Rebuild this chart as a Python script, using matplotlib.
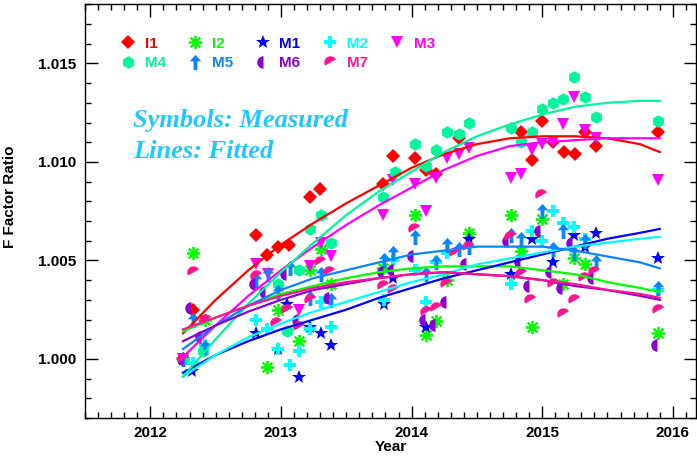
import matplotlib
matplotlib.use('Agg')
from matplotlib import pyplot as plt
from matplotlib.markers import MarkerStyle
from matplotlib.transforms import Affine2D
from matplotlib.ticker import MultipleLocator, FormatStrFormatter
import numpy as np

# measured symbols (year, F factor ratio)
i1_t = [2012.25, 2012.33, 2012.81, 2012.89, 2012.98, 2013.06, 2013.22, 2013.30, 2013.78, 2013.86,
        2014.03, 2014.11, 2014.19, 2014.36, 2014.84, 2014.92, 2015.00, 2015.08, 2015.17, 2015.25,
        2015.33, 2015.41, 2015.89]
i1_v = [1.0000, 1.0025, 1.0063, 1.0053, 1.0057, 1.0058, 1.0082, 1.0086, 1.0089, 1.0103,
        1.0102, 1.0096, 1.0094, 1.0112, 1.0115, 1.0101, 1.0121, 1.0110, 1.0105, 1.0104,
        1.0115, 1.0108, 1.0115]

i2_t = [2012.25, 2012.33, 2012.42, 2012.89, 2012.98, 2013.14, 2013.22, 2013.31, 2013.385, 2013.78,
        2014.03, 2014.11, 2014.19, 2014.27, 2014.44, 2014.76, 2014.84, 2014.92, 2015.00, 2015.16,
        2015.24, 2015.33, 2015.89]
i2_v = [1.0000, 1.0054, 1.0020, 0.9996, 1.0025, 1.0009, 1.0045, 1.0056, 1.0038, 1.0046,
        1.0073, 1.0012, 1.0019, 1.0040, 1.0064, 1.0073, 1.0055, 1.0016, 1.0071, 1.0038,
        1.0051, 1.0048, 1.0013]

m1_t = [2012.25, 2012.32, 2012.81, 2012.98, 2013.05, 2013.14, 2013.22, 2013.31, 2013.385, 2013.79,
        2013.86, 2014.11, 2014.44, 2014.76, 2014.92, 2015.08, 2015.24, 2015.33, 2015.41, 2015.89]
m1_v = [1.0000, 0.9994, 1.0013, 1.0005, 1.0028, 0.9991, 1.0016, 1.0013, 1.0007, 1.0028,
        1.0041, 1.0016, 1.0061, 1.0043, 1.0061, 1.0049, 1.0063, 1.0057, 1.0064, 1.0051]

m2_t = [2012.25, 2012.33, 2012.42, 2012.81, 2012.89, 2012.98, 2013.07, 2013.14, 2013.22, 2013.31,
        2013.385, 2013.79, 2013.86, 2014.03, 2014.11, 2014.19, 2014.27, 2014.76, 2014.92, 2015.00,
        2015.08, 2015.16, 2015.24, 2015.33, 2015.89]
m2_v = [1.0000, 0.9998, 1.0007, 1.0020, 1.0015, 1.0005, 0.9997, 1.0004, 1.0015, 1.0029,
        1.0016, 1.0030, 1.0050, 1.0045, 1.0029, 1.0049, 1.0054, 1.0038, 1.0065, 1.0060,
        1.0075, 1.0069, 1.0067, 1.0061, 1.0035]

m3_t = [2012.25, 2012.81, 2012.90, 2013.14, 2013.22, 2013.31, 2013.385, 2013.78, 2013.86, 2014.03,
        2014.11, 2014.19, 2014.27, 2014.36, 2014.44, 2014.76, 2014.84, 2014.92, 2015.00, 2015.08,
        2015.16, 2015.24, 2015.33, 2015.41, 2015.89]
m3_v = [1.0000, 1.0048, 1.0043, 1.0025, 1.0047, 1.0059, 1.0052, 1.0073, 1.0091, 1.0089,
        1.0075, 1.0092, 1.0102, 1.0104, 1.0107, 1.0092, 1.0094, 1.0106, 1.0109, 1.0110,
        1.0119, 1.0133, 1.0116, 1.0112, 1.0091]

m4_t = [2012.25, 2012.40, 2012.98, 2013.05, 2013.14, 2013.22, 2013.31, 2013.385, 2013.78, 2013.87,
        2014.03, 2014.11, 2014.19, 2014.27, 2014.36, 2014.44, 2014.76, 2014.84, 2014.92, 2015.00,
        2015.08, 2015.16, 2015.24, 2015.33, 2015.41, 2015.89]
m4_v = [1.0000, 1.0004, 1.0038, 1.0014, 1.0045, 1.0066, 1.0073, 1.0059, 1.0082, 1.0095,
        1.0109, 1.0098, 1.0106, 1.0115, 1.0114, 1.0120, 1.0117, 1.0110, 1.0115, 1.0127,
        1.0130, 1.0132, 1.0143, 1.0133, 1.0123, 1.0121]

m5_t = [2012.25, 2012.33, 2012.42, 2012.81, 2012.90, 2012.98, 2013.07, 2013.22, 2013.31, 2013.385,
        2013.79, 2013.86, 2014.03, 2014.11, 2014.19, 2014.27, 2014.36, 2014.44, 2014.76, 2014.84,
        2015.00, 2015.08, 2015.16, 2015.24, 2015.33, 2015.41, 2015.89]
m5_v = [1.0000, 1.0020, 1.0006, 1.0040, 1.0043, 1.0034, 1.0046, 1.0031, 1.0043, 1.0030,
        1.0050, 1.0054, 1.0062, 1.0043, 1.0049, 1.0058, 1.0056, 1.0057, 1.0063, 1.0061,
        1.0075, 1.0056, 1.0065, 1.0054, 1.0060, 1.0049, 1.0036]

m6_t = [2012.25, 2012.31, 2012.39, 2012.80, 2012.88, 2013.04, 2013.13, 2013.37, 2013.78, 2013.86,
        2014.01, 2014.10, 2014.18, 2014.26, 2014.42, 2014.74, 2014.83, 2014.90, 2014.98, 2015.07,
        2015.15, 2015.23, 2015.39, 2015.88]
m6_v = [1.0000, 1.0026, 1.0011, 1.0038, 1.0034, 1.0043, 1.0020, 1.0031, 1.0044, 1.0045,
        1.0052, 1.0020, 1.0017, 1.0029, 1.0048, 1.0060, 1.0049, 1.0037, 1.0065, 1.0044,
        1.0036, 1.0059, 1.0041, 1.0007]

m7_t = [2012.25, 2012.33, 2012.42, 2012.81, 2012.96, 2013.05, 2013.14, 2013.22, 2013.30, 2013.37,
        2013.78, 2013.86, 2014.02, 2014.11, 2014.19, 2014.26, 2014.33, 2014.43, 2014.75, 2014.84,
        2014.91, 2014.99, 2015.08, 2015.16, 2015.24, 2015.32, 2015.40, 2015.89]
m7_v = [1.0000, 1.0044, 1.0020, 1.0042, 1.0018, 1.0025, 1.0016, 1.0030, 1.0049, 1.0044,
        1.0037, 1.0035, 1.0066, 1.0024, 1.0026, 1.0038, 1.0054, 1.0057, 1.0062, 1.0043,
        1.0030, 1.0083, 1.0038, 1.0023, 1.0030, 1.0041, 1.0044, 1.0025]

# fitted lines at these years
fit_t = [2012.25, 2012.5, 2012.75, 2013.0, 2013.25, 2013.5, 2013.75, 2014.0,
         2014.25, 2014.5, 2014.75, 2015.0, 2015.25, 2015.5, 2015.75, 2015.9]
i1_fit = [1.0013, 1.0030, 1.0045, 1.0058, 1.0069, 1.0079, 1.0088, 1.0097,
          1.0104, 1.0109, 1.0112, 1.0113, 1.0113, 1.0112, 1.0109, 1.0105]
i2_fit = [1.0014, 1.0021, 1.0027, 1.0033, 1.0037, 1.0041, 1.0044, 1.0046,
          1.0047, 1.0047, 1.0047, 1.0045, 1.0043, 1.0039, 1.0036, 1.0034]
m1_fit = [0.9993, 1.0002, 1.0009, 1.0015, 1.0020, 1.0025, 1.0031, 1.0036,
          1.0041, 1.0045, 1.0049, 1.0053, 1.0057, 1.0061, 1.0064, 1.0066]
m2_fit = [0.9991, 1.0002, 1.0011, 1.0018, 1.0024, 1.0029, 1.0034, 1.0039,
          1.0043, 1.0048, 1.0051, 1.0054, 1.0057, 1.0059, 1.0061, 1.0062]
m3_fit = [1.0001, 1.0017, 1.0032, 1.0045, 1.0057, 1.0068, 1.0078, 1.0087,
          1.0096, 1.0103, 1.0108, 1.0110, 1.0111, 1.0112, 1.0112, 1.0112]
m4_fit = [0.9991, 1.0010, 1.0028, 1.0044, 1.0059, 1.0073, 1.0085, 1.0095,
          1.0105, 1.0113, 1.0119, 1.0124, 1.0128, 1.0130, 1.0131, 1.0131]
m5_fit = [1.0005, 1.0017, 1.0027, 1.0035, 1.0041, 1.0045, 1.0049, 1.0053,
          1.0055, 1.0057, 1.0057, 1.0057, 1.0055, 1.0052, 1.0049, 1.0046]
m6_fit = [1.0009, 1.0017, 1.0024, 1.0030, 1.0035, 1.0038, 1.0041, 1.0043,
          1.0044, 1.0043, 1.0042, 1.0040, 1.0037, 1.0035, 1.0032, 1.0030]
m7_fit = [1.0015, 1.0021, 1.0027, 1.0032, 1.0036, 1.0039, 1.0041, 1.0043,
          1.0044, 1.0043, 1.0042, 1.0040, 1.0038, 1.0035, 1.0033, 1.0031]

names = ['I1', 'I2', 'M1', 'M2', 'M3', 'M4', 'M5', 'M6', 'M7']
colors = ['#ff0000', '#00ff00', '#0000ff', '#00ffff', '#ff00ff',
          '#00f59a', '#0a84ff', '#8a00d4', '#ff1493']

arrow = [(0, 1), (-0.75, 0.15), (-0.25, 0.15), (-0.25, -1), (0.25, -1),
         (0.25, 0.15), (0.75, 0.15), (0, 1)]
markers = [
    dict(marker='D', markersize=7, markeredgewidth=0),
    dict(marker=(8, 2, 0), markersize=9.5, markeredgewidth=1.3),
    dict(marker='*', markersize=10.5, markeredgewidth=0),
    dict(marker='P', markersize=9, markeredgewidth=0),
    dict(marker='v', markersize=9, markeredgewidth=0),
    dict(marker='h', markersize=9, markeredgewidth=0),
    dict(marker=arrow, markersize=11, markeredgewidth=0),
    dict(marker='o', fillstyle='left', markersize=9, markeredgewidth=0),
    dict(marker=MarkerStyle('o', fillstyle='top', transform=Affine2D().rotate_deg(30)),
         markersize=9, markeredgewidth=0),
]

series_t = [i1_t, i2_t, m1_t, m2_t, m3_t, m4_t, m5_t, m6_t, m7_t]
series_v = [i1_v, i2_v, m1_v, m2_v, m3_v, m4_v, m5_v, m6_v, m7_v]
fits = [i1_fit, i2_fit, m1_fit, m2_fit, m3_fit, m4_fit, m5_fit, m6_fit, m7_fit]

plt.rcParams['font.family'] = ['Liberation Sans', 'DejaVu Sans']
plt.rcParams['font.weight'] = 'bold'

fig = plt.figure(figsize=(6.97, 4.59), dpi=100)
ax = fig.add_axes([0.122, 0.0893, 0.877, 0.9013])

handles = []
for t, v, f, c, m in zip(series_t, series_v, fits, colors, markers):
    h, = ax.plot(t, v, linestyle='none', color=c, markerfacecolor=c, markeredgecolor=c, **m)
    handles.append(h)
    ax.plot(fit_t, f, color=c, linewidth=1.6, zorder=3)

ax.set_xlim(2011.5, 2016.18)
ax.set_ylim(0.997, 1.018)
ax.xaxis.set_major_locator(MultipleLocator(1))
ax.xaxis.set_minor_locator(MultipleLocator(0.1))
ax.yaxis.set_major_locator(MultipleLocator(0.005))
ax.yaxis.set_minor_locator(MultipleLocator(0.001))
ax.yaxis.set_major_formatter(FormatStrFormatter('%.3f'))
ax.tick_params(which='both', direction='in', top=True, right=True, labelsize=11, width=1)
ax.tick_params(which='major', length=9, pad=6)
ax.tick_params(which='minor', length=4.5)
for s in ax.spines.values():
    s.set_linewidth(1)
ax.set_xlabel('Year', fontsize=11, fontweight='bold', labelpad=0)
ax.set_ylabel('F Factor Ratio', fontsize=11, fontweight='bold')
ax.yaxis.set_label_coords(-0.111, 0.534)

# legend: two rows, filled column by column
order = [0, 5, 1, 6, 2, 7, 3, 8, 4]
leg = ax.legend([handles[k] for k in order], [names[k] for k in order], ncol=5,
                loc='upper left', bbox_to_anchor=(0.035, 0.955), frameon=False,
                handlelength=1.0, handletextpad=0.6, columnspacing=1.43,
                labelspacing=0.35, prop=dict(size=11, weight='bold'), numpoints=1)
for txt, k in zip(leg.get_texts(), order):
    txt.set_color(colors[k])

ax.text(0.0786, 0.703, 'Symbols: Measured', transform=ax.transAxes, color='#1ec8ff',
        fontsize=19, fontweight='bold', fontstyle='italic', family='Liberation Serif')
ax.text(0.0786, 0.628, 'Lines: Fitted', transform=ax.transAxes, color='#1ec8ff',
        fontsize=19, fontweight='bold', fontstyle='italic', family='Liberation Serif')

fig.savefig('out.png', dpi=100)
